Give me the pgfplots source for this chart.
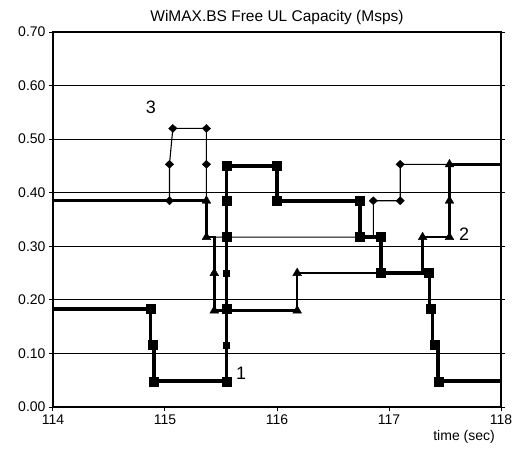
\documentclass[border=0pt]{standalone}
\usepackage{pgfplots}
\pgfplotsset{compat=1.18}
\usepackage{fontspec}
\setmainfont{Liberation Sans}
\begin{document}
\begin{tikzpicture}
\begin{axis}[
  scale only axis, width=448pt, height=375pt,
  xmin=114, xmax=118, ymin=0, ymax=0.7,
  xtick={114,115,116,117,118},
  ytick={0,0.1,0.2,0.3,0.4,0.5,0.6,0.7},
  ymajorgrids, grid style={black, line width=0.9pt},
  axis line style={black, line width=1.6pt},
  tick align=outside, xtick pos=bottom, ytick pos=both,
  major tick length=4pt, tick style={black, line width=1pt},
  /pgf/number format/assume math mode=true,
  yticklabel style={/pgf/number format/.cd, fixed, fixed zerofill, precision=2},
  xticklabel style={/pgf/number format/1000 sep={}},
  tick label style={font=\fontsize{14}{14}\selectfont},
  title={WiMAX.BS Free UL Capacity (Msps)},
  title style={font=\fontsize{15.5}{16}\selectfont, at={(axis description cs:0.5,1)}, anchor=base, yshift=5pt, inner sep=0pt},
  xlabel={time (sec)},
  xlabel style={font=\fontsize{14}{14}\selectfont, at={(axis description cs:1,0)}, anchor=north east, xshift=-6pt, yshift=-23pt, inner sep=0pt},
]
% series 3 (thin, diamonds)
\addplot[black, line width=1.1pt] coordinates {
 (114,0.385) (115.04,0.385) (115.04,0.453) (115.07,0.52) (115.37,0.52)
 (115.37,0.453) (115.37,0.385) (115.37,0.317) (116.86,0.317) (116.86,0.385)
 (117.10,0.385) (117.10,0.453) (118,0.453)};
\addplot[only marks, mark=diamond*, mark size=4pt, mark options={xscale=1.4}, black] coordinates {
 (115.04,0.385) (115.04,0.453) (115.07,0.52) (115.37,0.52) (115.37,0.453)
 (116.86,0.385) (117.10,0.385) (117.10,0.453)};
% series 2 (medium, triangles)
\addplot[black, line width=2.6pt] coordinates {
 (114,0.385) (115.37,0.385) (115.37,0.317) (115.44,0.317) (115.44,0.18)
 (116.18,0.18) (116.18,0.25) (117.30,0.25) (117.30,0.317) (117.54,0.317)
 (117.54,0.453) (118,0.453)};
\addplot[only marks, mark=triangle*, mark size=5pt, black] coordinates {
 (115.37,0.385) (115.37,0.317) (115.44,0.25) (115.44,0.18) (116.18,0.18)
 (116.18,0.25) (117.30,0.317) (117.54,0.317) (117.54,0.385) (117.54,0.453)};
% series 1 (thick, squares)
\addplot[black, line width=3.6pt] coordinates {
 (114,0.183) (114.87,0.183) (114.87,0.116) (114.90,0.116) (114.90,0.048)
 (115.55,0.048) (115.55,0.45) (116.0,0.45) (116.0,0.385) (116.74,0.385)
 (116.74,0.317) (116.93,0.317) (116.93,0.25) (117.36,0.25) (117.36,0.183)
 (117.39,0.183) (117.39,0.116) (117.44,0.116) (117.44,0.048) (118,0.048)};
\addplot[only marks, mark=square*, mark size=4.5pt, black] coordinates {
 (114.87,0.183) (114.89,0.116) (114.90,0.048) (115.55,0.048) (115.55,0.183)
 (115.55,0.317) (115.55,0.385) (115.55,0.45) (116.0,0.45) (116.0,0.385)
 (116.74,0.385) (116.74,0.317) (116.93,0.317) (116.93,0.25) (117.35,0.25)
 (117.37,0.183) (117.41,0.116) (117.44,0.048)};
\addplot[only marks, mark=square*, mark size=3pt, black] coordinates {
 (115.55,0.116) (115.55,0.25)};
\node[font=\fontsize{18}{18}\selectfont] at (axis cs:114.875,0.56) {3};
\node[font=\fontsize{18}{18}\selectfont] at (axis cs:115.68,0.063) {1};
\node[font=\fontsize{18}{18}\selectfont] at (axis cs:117.67,0.323) {2};
\end{axis}
\pgfresetboundingbox
\path (-53pt,-44pt) rectangle (464pt,407pt);
\end{tikzpicture}
\end{document}
